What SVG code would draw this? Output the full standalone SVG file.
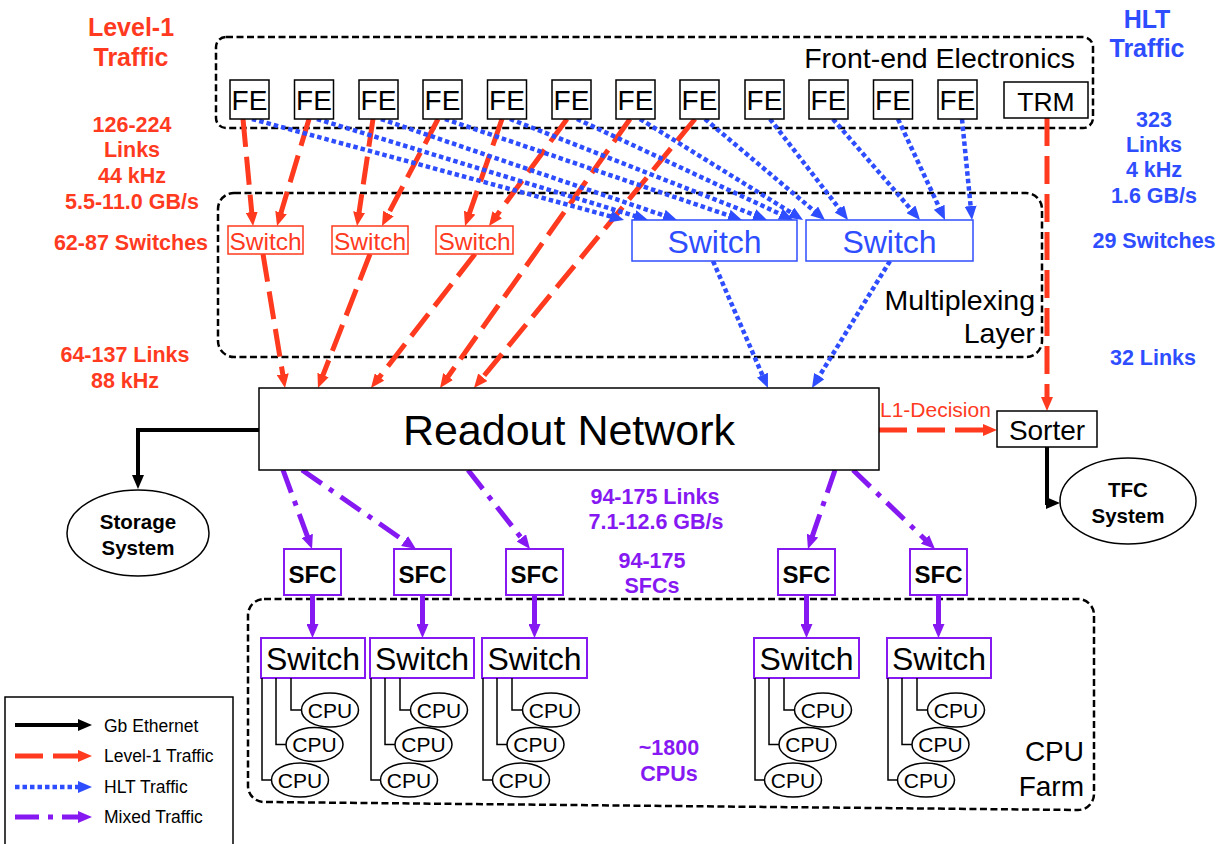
<svg xmlns="http://www.w3.org/2000/svg" width="1221" height="844" viewBox="0 0 1221 844">
<style>
text{font-family:"Liberation Sans",Arial,sans-serif}
.b{font-weight:bold}
.m{text-anchor:middle}
.e{text-anchor:end}
.red{fill:#FF3A1E}
.blu{fill:#2E4DFF}
.pur{fill:#8618F2}
.box{fill:#fff;stroke:#000;stroke-width:1.5}
.grp{fill:none;stroke:#000;stroke-width:2.5;stroke-dasharray:7 3.5}
.rl{fill:none;stroke:#FF3A1E;stroke-width:5;stroke-dasharray:28 10;marker-end:url(#ar)}
.bl{fill:none;stroke:#2E4DFF;stroke-width:4.5;stroke-dasharray:4.5 3;marker-end:url(#ab)}
.pl{fill:none;stroke:#8618F2;stroke-width:5;stroke-dasharray:24 9 5 9;marker-end:url(#ap)}
.ps{fill:none;stroke:#8618F2;stroke-width:5;marker-end:url(#ap)}
.kl{fill:none;stroke:#000;stroke-width:4;marker-end:url(#ak)}
.cl{fill:none;stroke:#000;stroke-width:1.5}
.fe{font-size:28px}
.cpu{font-size:21px}
.lab{font-size:21.5px}
.rsw{fill:#fff;stroke:#FF3A1E;stroke-width:1.5}
.bsw{fill:#fff;stroke:#2E4DFF;stroke-width:1.5}
.psw{fill:#fff;stroke:#8618F2;stroke-width:2}
</style>
<defs>
<marker id="ar" markerUnits="userSpaceOnUse" markerWidth="14" markerHeight="12" refX="4" refY="6" orient="auto"><path d="M0,0 L14,6 L0,12 z" fill="#FF3A1E"/></marker>
<marker id="ab" markerUnits="userSpaceOnUse" markerWidth="14" markerHeight="12" refX="4" refY="6" orient="auto"><path d="M0,0 L14,6 L0,12 z" fill="#2E4DFF"/></marker>
<marker id="ap" markerUnits="userSpaceOnUse" markerWidth="14" markerHeight="12" refX="4" refY="6" orient="auto"><path d="M0,0 L14,6 L0,12 z" fill="#8618F2"/></marker>
<marker id="ak" markerUnits="userSpaceOnUse" markerWidth="14" markerHeight="12" refX="4" refY="6" orient="auto"><path d="M0,0 L14,6 L0,12 z" fill="#000"/></marker>
</defs>
<rect width="1221" height="844" fill="#fff"/>

<!-- group containers -->
<g id="frontend-group">
<rect class="grp" x="216" y="37" width="877" height="91" rx="10"/>
<text x="1075" y="68" class="e" font-size="28.5">Front-end Electronics</text>
</g>
<g id="mux-group">
<rect class="grp" x="218" y="193" width="824" height="164" rx="16"/>
<text x="1035" y="310" class="e" font-size="28.5">Multiplexing</text>
<text x="1035" y="343" class="e" font-size="28.5">Layer</text>
</g>
<g id="cpufarm-group">
<path class="grp" d="M264,599 H1078 A16,16 0 0 1 1094,615 V794 A16,16 0 0 1 1078,810 L264,802 A16,16 0 0 1 248,786 V615 A16,16 0 0 1 264,599 Z"/>
<text x="1084" y="761" class="e" font-size="28">CPU</text>
<text x="1084" y="796" class="e" font-size="28">Farm</text>
</g>

<!-- side labels -->
<g id="labels-red" class="b red m">
<text x="131" y="36" font-size="25">Level-1</text>
<text x="131" y="66" font-size="25">Traffic</text>
<text class="lab" x="132" y="132">126-224</text>
<text class="lab" x="132" y="157">Links</text>
<text class="lab" x="132" y="183">44 kHz</text>
<text class="lab" x="132" y="209">5.5-11.0 GB/s</text>
<text class="lab" x="131" y="250">62-87 Switches</text>
<text class="lab" x="125" y="362">64-137 Links</text>
<text class="lab" x="125" y="388">88 kHz</text>
</g>
<g id="labels-blue" class="b blu m">
<text x="1147" y="28" font-size="25">HLT</text>
<text x="1147" y="57" font-size="25">Traffic</text>
<text class="lab" x="1154" y="127">323</text>
<text class="lab" x="1154" y="152">Links</text>
<text class="lab" x="1154" y="177">4 kHz</text>
<text class="lab" x="1154" y="203">1.6 GB/s</text>
<text class="lab" x="1154" y="248">29 Switches</text>
<text class="lab" x="1153" y="365">32 Links</text>
</g>
<g id="labels-purple" class="b pur m">
<text class="lab" x="655" y="504">94-175 Links</text>
<text class="lab" x="656" y="529">7.1-12.6 GB/s</text>
<text class="lab" x="652" y="568">94-175</text>
<text class="lab" x="652" y="593">SFCs</text>
<text class="lab" x="669" y="755">~1800</text>
<text class="lab" x="669" y="781">CPUs</text>
</g>

<!-- connectors -->
<g id="connectors">
<path class="rl" d="M243,119 L252.1,216.1"/>
<path class="rl" d="M309,119 L279.9,216.4"/>
<path class="rl" d="M373,119 L358.5,216.1"/>
<path class="rl" d="M438,119 L386.6,217.1"/>
<path class="rl" d="M502,119 L468.3,216.5"/>
<path class="rl" d="M567,119 L494.9,217.9"/>
<path class="rl" d="M630,119 L445.8,379.8"/>
<path class="rl" d="M695,119 L480.3,380.3"/>
<path class="rl" d="M263,254 L283.4,378.1"/>
<path class="rl" d="M370,254 L321.6,378.7"/>
<path class="rl" d="M475,254 L377.1,380.1"/>
<path class="rl" d="M1047,118 L1047,401"/>
<path class="rl" d="M879,430 L987,430"/>
<path class="bl" d="M252,119 L614.4,217.4"/>
<path class="bl" d="M317,119 L638.4,217.1"/>
<path class="bl" d="M381,119 L667.5,216.8"/>
<path class="bl" d="M445,119 L732.5,216.8"/>
<path class="bl" d="M510,119 L757.7,216.3"/>
<path class="bl" d="M577,119 L783.9,215.8"/>
<path class="bl" d="M640,119 L794.5,214.7"/>
<path class="bl" d="M705,119 L817.3,213.6"/>
<path class="bl" d="M770,119 L841.9,212.1"/>
<path class="bl" d="M833,119 L913.5,212.4"/>
<path class="bl" d="M898,119 L940.8,210.9"/>
<path class="bl" d="M962,119 L971,210"/>
<path class="bl" d="M713,261 L764,378.8"/>
<path class="bl" d="M890,261 L817.2,379.5"/>
<path class="pl" d="M283,470 L308.6,539.6"/>
<path class="pl" d="M302,470 L407.8,543.3"/>
<path class="pl" d="M468,470 L523.8,541.1"/>
<path class="pl" d="M835,470 L811.2,539.5"/>
<path class="pl" d="M853,470 L927.8,542.1"/>
<path class="ps" d="M312.5,595 V628"/>
<path class="ps" d="M422.5,595 V628"/>
<path class="ps" d="M534.5,595 V628"/>
<path class="ps" d="M806.5,595 V628"/>
<path class="ps" d="M938.5,595 V628"/>
<path class="kl" d="M259,430 H138 V479"/>
<path class="kl" d="M1047,447 V503 H1050"/>
</g>

<!-- FE nodes -->
<g id="fe1"><rect class="box" x="230" y="80" width="39" height="39"/><text class="fe m" x="249.5" y="110">FE</text></g>
<g id="fe2"><rect class="box" x="294.5" y="80" width="39" height="39"/><text class="fe m" x="314" y="110">FE</text></g>
<g id="fe3"><rect class="box" x="359" y="80" width="39" height="39"/><text class="fe m" x="378.5" y="110">FE</text></g>
<g id="fe4"><rect class="box" x="423" y="80" width="39" height="39"/><text class="fe m" x="442.5" y="110">FE</text></g>
<g id="fe5"><rect class="box" x="487.5" y="80" width="39" height="39"/><text class="fe m" x="507" y="110">FE</text></g>
<g id="fe6"><rect class="box" x="552" y="80" width="39" height="39"/><text class="fe m" x="571.5" y="110">FE</text></g>
<g id="fe7"><rect class="box" x="616" y="80" width="39" height="39"/><text class="fe m" x="635.5" y="110">FE</text></g>
<g id="fe8"><rect class="box" x="680" y="80" width="39" height="39"/><text class="fe m" x="699.5" y="110">FE</text></g>
<g id="fe9"><rect class="box" x="745" y="80" width="39" height="39"/><text class="fe m" x="764.5" y="110">FE</text></g>
<g id="fe10"><rect class="box" x="809" y="80" width="39" height="39"/><text class="fe m" x="828.5" y="110">FE</text></g>
<g id="fe11"><rect class="box" x="873.5" y="80" width="39" height="39"/><text class="fe m" x="893" y="110">FE</text></g>
<g id="fe12"><rect class="box" x="938" y="80" width="39" height="39"/><text class="fe m" x="957.5" y="110">FE</text></g>
<g id="trm"><rect class="box" x="1004" y="82" width="84" height="36"/><text class="m" x="1046" y="111" font-size="26.5">TRM</text></g>

<!-- mux switches -->
<g id="rsw1"><rect class="rsw" x="228" y="226" width="75" height="28"/><text class="m red" x="265.5" y="250" font-size="24.5">Switch</text></g>
<g id="rsw2"><rect class="rsw" x="332" y="226" width="76" height="28"/><text class="m red" x="370" y="250" font-size="24.5">Switch</text></g>
<g id="rsw3"><rect class="rsw" x="436" y="226" width="77" height="28"/><text class="m red" x="474.5" y="250" font-size="24.5">Switch</text></g>
<g id="bsw1"><rect class="bsw" x="632" y="220" width="165" height="41"/><text class="m blu" x="714.5" y="253" font-size="32">Switch</text></g>
<g id="bsw2"><rect class="bsw" x="806" y="220" width="167" height="41"/><text class="m blu" x="889.5" y="253" font-size="32">Switch</text></g>

<!-- readout, sorter, systems -->
<g id="readout"><rect class="box" x="259" y="388" width="620" height="82"/><text class="m" x="569" y="445" font-size="43">Readout Network</text></g>
<g id="l1label"><text class="red" x="880" y="417" font-size="21">L1-Decision</text></g>
<g id="sorter"><rect class="box" x="997" y="411" width="100" height="36"/><text class="m" x="1047" y="440" font-size="28">Sorter</text></g>
<g id="tfc"><ellipse class="box" cx="1128" cy="501" rx="68" ry="43"/><text class="m b" x="1128" y="497" font-size="20.5">TFC</text><text class="m b" x="1128" y="523" font-size="20.5">System</text></g>
<g id="storage"><ellipse class="box" cx="138" cy="533" rx="71" ry="43"/><text class="m b" x="138" y="529" font-size="20.5">Storage</text><text class="m b" x="138" y="555" font-size="20.5">System</text></g>

<!-- SFCs -->
<g id="sfc1"><rect class="psw" x="284" y="549" width="57" height="46"/><text class="m b" x="312.5" y="583" font-size="24">SFC</text></g>
<g id="sfc2"><rect class="psw" x="394" y="549" width="57" height="46"/><text class="m b" x="422.5" y="583" font-size="24">SFC</text></g>
<g id="sfc3"><rect class="psw" x="506" y="549" width="57" height="46"/><text class="m b" x="534.5" y="583" font-size="24">SFC</text></g>
<g id="sfc4"><rect class="psw" x="778" y="549" width="57" height="46"/><text class="m b" x="806.5" y="583" font-size="24">SFC</text></g>
<g id="sfc5"><rect class="psw" x="910" y="549" width="57" height="46"/><text class="m b" x="938.5" y="583" font-size="24">SFC</text></g>

<!-- farm switches with CPUs -->
<g id="fsw1" transform="translate(261,0)">
<rect class="psw" x="0" y="638" width="104" height="40"/><text class="m" x="52" y="670" font-size="32">Switch</text>
<path class="cl" d="M1,678 V780 H10 M15,678 V744.5 H25 M30,678 V710 H40"/>
<ellipse class="box" cx="39" cy="780" rx="28.5" ry="17"/><text class="cpu m" x="39" y="787.5">CPU</text>
<ellipse class="box" cx="53.5" cy="744.5" rx="28.5" ry="17"/><text class="cpu m" x="53.5" y="752">CPU</text>
<ellipse class="box" cx="69" cy="710" rx="28.5" ry="17"/><text class="cpu m" x="69" y="717.5">CPU</text>
</g>
<g id="fsw2" transform="translate(370,0)">
<rect class="psw" x="0" y="638" width="104" height="40"/><text class="m" x="52" y="670" font-size="32">Switch</text>
<path class="cl" d="M1,678 V780 H10 M15,678 V744.5 H25 M30,678 V710 H40"/>
<ellipse class="box" cx="39" cy="780" rx="28.5" ry="17"/><text class="cpu m" x="39" y="787.5">CPU</text>
<ellipse class="box" cx="53.5" cy="744.5" rx="28.5" ry="17"/><text class="cpu m" x="53.5" y="752">CPU</text>
<ellipse class="box" cx="69" cy="710" rx="28.5" ry="17"/><text class="cpu m" x="69" y="717.5">CPU</text>
</g>
<g id="fsw3" transform="translate(482,0)">
<rect class="psw" x="0" y="638" width="105" height="40"/><text class="m" x="52.5" y="670" font-size="32">Switch</text>
<path class="cl" d="M1,678 V780 H10 M15,678 V744.5 H25 M30,678 V710 H40"/>
<ellipse class="box" cx="39" cy="780" rx="28.5" ry="17"/><text class="cpu m" x="39" y="787.5">CPU</text>
<ellipse class="box" cx="53.5" cy="744.5" rx="28.5" ry="17"/><text class="cpu m" x="53.5" y="752">CPU</text>
<ellipse class="box" cx="69" cy="710" rx="28.5" ry="17"/><text class="cpu m" x="69" y="717.5">CPU</text>
</g>
<g id="fsw4" transform="translate(754,0)">
<rect class="psw" x="0" y="638" width="105" height="40"/><text class="m" x="52.5" y="670" font-size="32">Switch</text>
<path class="cl" d="M1,678 V780 H10 M15,678 V744.5 H25 M30,678 V710 H40"/>
<ellipse class="box" cx="39" cy="780" rx="28.5" ry="17"/><text class="cpu m" x="39" y="787.5">CPU</text>
<ellipse class="box" cx="53.5" cy="744.5" rx="28.5" ry="17"/><text class="cpu m" x="53.5" y="752">CPU</text>
<ellipse class="box" cx="69" cy="710" rx="28.5" ry="17"/><text class="cpu m" x="69" y="717.5">CPU</text>
</g>
<g id="fsw5" transform="translate(887,0)">
<rect class="psw" x="0" y="638" width="104" height="40"/><text class="m" x="52" y="670" font-size="32">Switch</text>
<path class="cl" d="M1,678 V780 H10 M15,678 V744.5 H25 M30,678 V710 H40"/>
<ellipse class="box" cx="39" cy="780" rx="28.5" ry="17"/><text class="cpu m" x="39" y="787.5">CPU</text>
<ellipse class="box" cx="53.5" cy="744.5" rx="28.5" ry="17"/><text class="cpu m" x="53.5" y="752">CPU</text>
<ellipse class="box" cx="69" cy="710" rx="28.5" ry="17"/><text class="cpu m" x="69" y="717.5">CPU</text>
</g>

<!-- legend -->
<g id="legend">
<rect x="5" y="697" width="228" height="152" fill="#fff" stroke="#000" stroke-width="1.5"/>
<path class="kl" d="M15,725 H82"/>
<path class="rl" d="M15,756 H82" stroke-dasharray="33 11"/>
<path class="bl" d="M15,787 H82"/>
<path class="pl" d="M15,817 H82" stroke-dasharray="28 12 5 12"/>
<text x="104" y="732" font-size="17.5">Gb Ethernet</text>
<text x="104" y="762" font-size="17.5">Level-1 Traffic</text>
<text x="104" y="793" font-size="17.5">HLT Traffic</text>
<text x="104" y="823" font-size="17.5">Mixed Traffic</text>
</g>
</svg>
